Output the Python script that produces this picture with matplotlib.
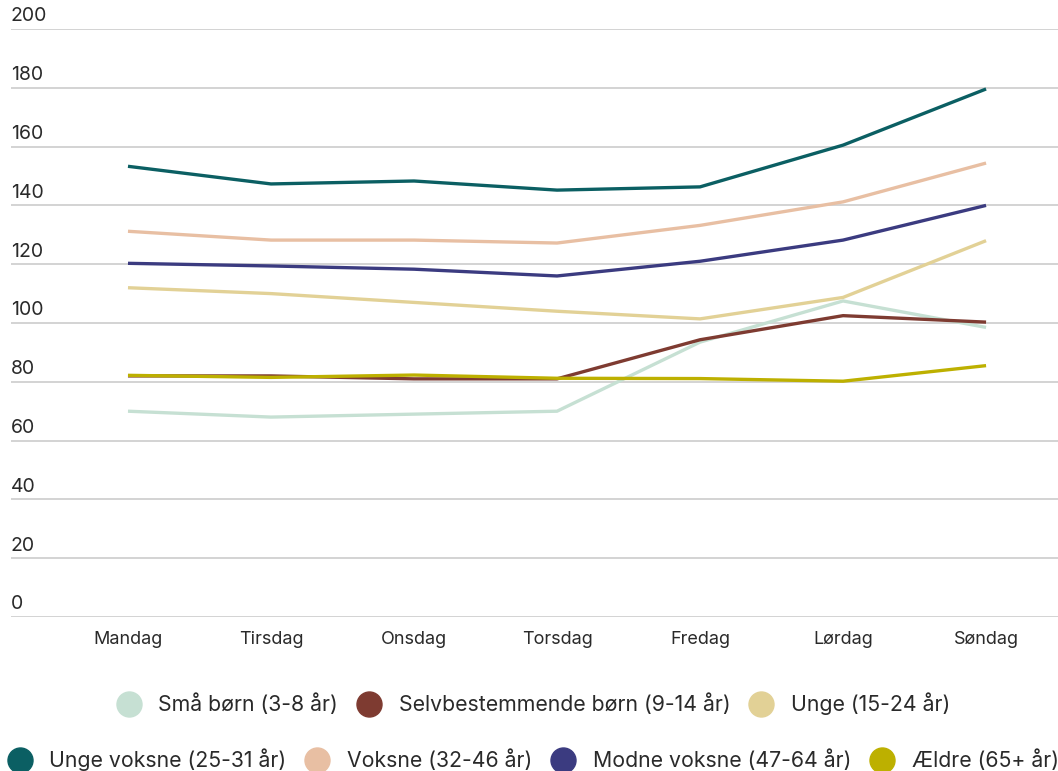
import matplotlib.pyplot as plt
from matplotlib.lines import Line2D

plt.rcParams['font.family'] = ['Inter', 'DejaVu Sans']

days = ["Mandag", "Tirsdag", "Onsdag", "Torsdag", "Fredag", "Lørdag", "Søndag"]

sma_born = [70, 68, 69, 70, 93.5, 107.5, 98.5]
selvbestemmende = [82, 82, 81, 81, 94.3, 102.5, 100.3]
unge = [112, 110, 107, 104, 101.4, 108.7, 128]
unge_voksne = [153.3, 147.3, 148.3, 145.2, 146.3, 160.5, 179.6]
voksne = [131.2, 128.2, 128.2, 127.2, 133.2, 141.2, 154.4]
modne_voksne = [120.3, 119.4, 118.3, 116, 121, 128.2, 140]
aeldre = [82.2, 81.5, 82.3, 81.2, 81.1, 80.2, 85.5]

names = ["Små børn (3-8 år)", "Selvbestemmende børn (9-14 år)", "Unge (15-24 år)",
         "Unge voksne (25-31 år)", "Voksne (32-46 år)", "Modne voksne (47-64 år)",
         "Ældre (65+ år)"]
series = [sma_born, selvbestemmende, unge, unge_voksne, voksne, modne_voksne, aeldre]
colors = ["#c6e0d3", "#7e3b31", "#e2d196", "#0b5f63", "#e8bfa3", "#3b3b80", "#bdb000"]

yticks = [0, 20, 40, 60, 80, 100, 120, 140, 160, 180, 200]

fig = plt.figure(figsize=(10.58, 7.71), dpi=100)
ax = fig.add_axes([11 / 1058, 1 - 617 / 771, 1 - 11 / 1058, (617 - 29) / 771])

x = list(range(len(days)))
for vals, c in zip(series, colors):
    ax.plot(x, vals, color=c, lw=2.4, solid_capstyle='butt', zorder=3)

ax.set_ylim(0, 200)
ax.set_xlim(-0.818, 6.503)
for s in ax.spines.values():
    s.set_visible(False)
ax.set_yticks(yticks)
ax.yaxis.grid(True, color="#d0d0d0", lw=1.3)
ax.set_axisbelow(True)
ax.tick_params(axis='y', length=0, labelleft=False)
for t in yticks:
    ax.text(0, t + 1.2, str(t), transform=ax.get_yaxis_transform(),
            ha='left', va='bottom', fontsize=14, color="#2a2a2a")
ax.set_xticks(x)
ax.set_xticklabels(days, fontsize=13, color="#2a2a2a")
ax.tick_params(axis='x', length=0, pad=10)

handles = [Line2D([], [], ls='none', marker='o', markersize=18, color=c) for c in colors]
kw = dict(loc='center', frameon=False, fontsize=15.3, handlelength=1.0,
          handletextpad=0.9, columnspacing=0.95)
leg1 = fig.legend(handles[:3], names[:3], bbox_to_anchor=(534 / 1058, 1 - 704 / 771), ncol=3, **kw)
leg2 = fig.legend(handles[3:], names[3:], bbox_to_anchor=(534 / 1058, 1 - 760 / 771), ncol=4, **kw)
for leg in (leg1, leg2):
    for t in leg.get_texts():
        t.set_color("#2a2a2a")

fig.savefig("out.png", dpi=100)
